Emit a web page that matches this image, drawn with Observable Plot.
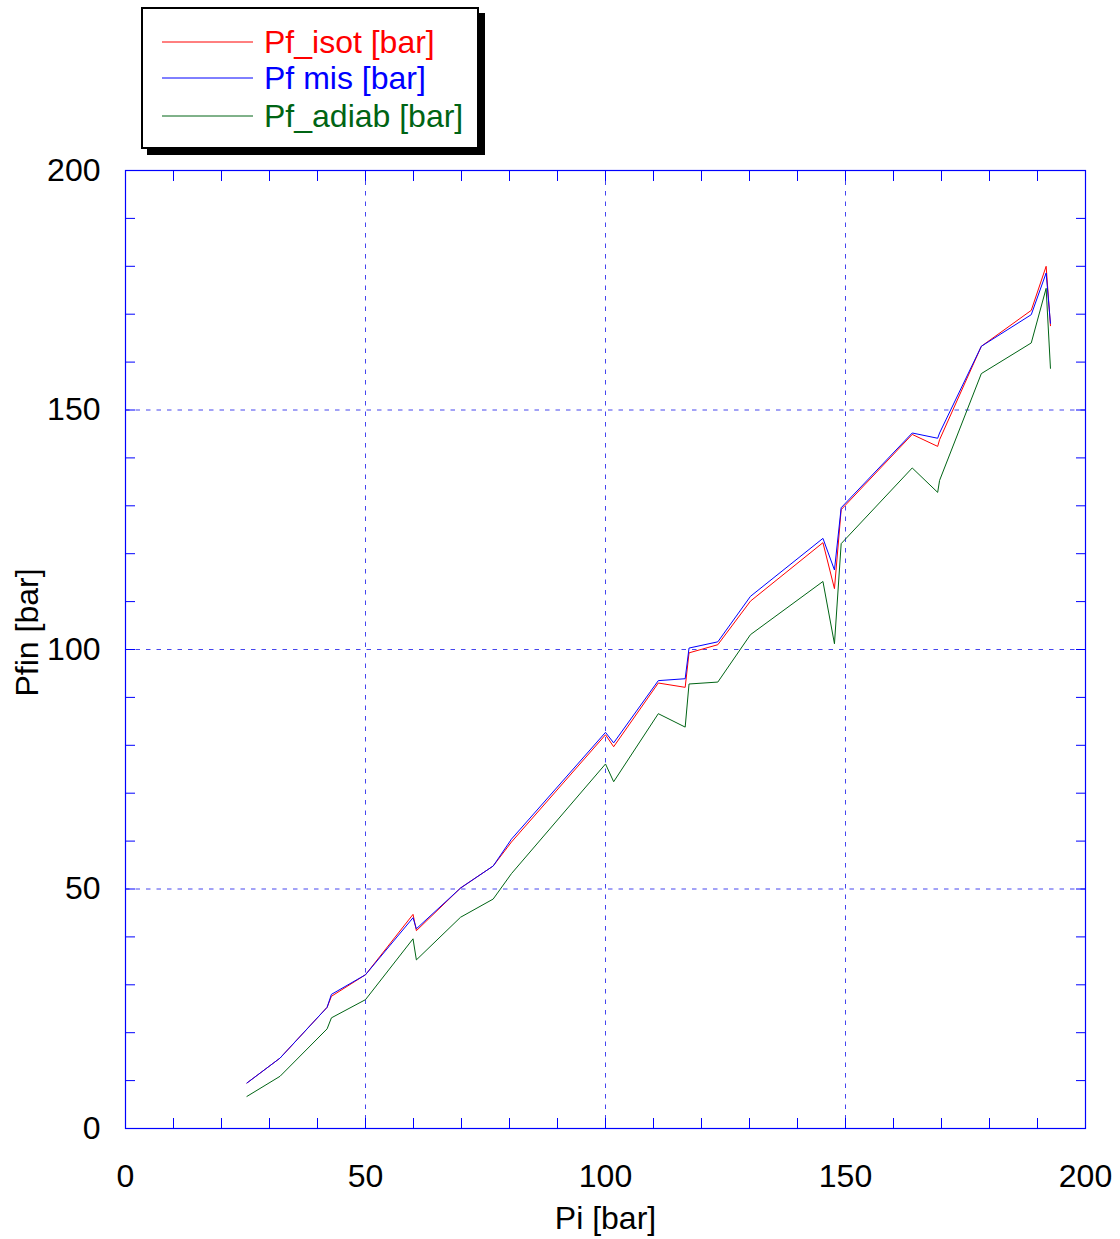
<!DOCTYPE html>
<html>
<head>
<meta charset="utf-8">
<script src="https://cdn.jsdelivr.net/npm/d3@7"></script>
<script src="https://cdn.jsdelivr.net/npm/@observablehq/plot@0.6"></script>
<style>
  html, body { margin: 0; padding: 0; background: white; }
  #wrap { position: relative; width: 1120px; height: 1239px; font-family: "Liberation Sans", Arial, sans-serif; }
  #legend { position: absolute; left: 141px; top: 7px; width: 334px; height: 138px; border: 2px solid black; box-shadow: 6px 6px 0 black; background: white; }
  .row { position: absolute; left: 0; height: 36px; display: flex; align-items: center; font-size: 32px; white-space: nowrap; }
  .row svg { margin-left: 19px; margin-right: 11px; }
  #chart { position: absolute; left: 0; top: 160px; }
</style>
</head>
<body>
<div id="wrap">
  <div id="chart"></div>
  <div id="legend"></div>
</div>
<script>
// Pi [bar]
const pi = [25.3, 32.2, 42.0, 42.9, 50.0, 59.9, 60.6, 69.8, 76.6, 80.4, 100.0, 101.7, 111.0, 116.6, 117.4, 123.4, 130.2, 145.3, 147.7, 149.1, 163.9, 169.2, 169.6, 178.3, 188.7, 191.8, 192.7];
const pfIsot = [9.5, 14.7, 25.3, 27.6, 32.1, 44.7, 41.3, 50.2, 54.8, 59.8, 82.2, 79.7, 93.0, 92.1, 99.3, 101.0, 110.1, 122.3, 112.7, 129.2, 144.9, 142.4, 143.8, 163.3, 170.8, 180.0, 167.6];
const pfMis = [9.5, 14.7, 25.3, 28.0, 32.1, 44.0, 41.7, 50.2, 54.8, 60.4, 82.7, 80.5, 93.5, 93.9, 100.3, 101.6, 111.1, 123.2, 116.6, 129.6, 145.2, 144.1, 145.2, 163.3, 169.9, 178.6, 168.1];
const pfAdiab = [6.7, 10.9, 20.8, 23.1, 26.9, 39.6, 35.2, 44.1, 47.9, 53.2, 76.1, 72.4, 86.6, 83.8, 92.8, 93.2, 103.1, 114.2, 101.2, 122.1, 137.9, 132.8, 135.3, 157.6, 164.0, 175.4, 158.7];

const seriesNames = ["Pf_isot [bar]", "Pf mis [bar]", "Pf_adiab [bar]"];
const seriesColors = ["#ff0000", "#0000ff", "#006414"];
const drawOrder = ["Pf_adiab [bar]", "Pf_isot [bar]", "Pf mis [bar]"];

const xTicks = [0, 50, 100, 150, 200];
const yTicks = [0, 50, 100, 150, 200];
const minorTicks = d3.range(0, 201, 10);
const gridVals = [50, 100, 150];
const xLabel = "Pi [bar]";
const yLabel = "Pfin [bar]";

const valuesBySeries = {"Pf_isot [bar]": pfIsot, "Pf mis [bar]": pfMis, "Pf_adiab [bar]": pfAdiab};
const rows = drawOrder.flatMap(s => pi.map((x, i) => ({x, y: valuesBySeries[s][i], s})));

const axisBlue = "#0000ff";
const gridBlue = "#4646ee";

const chart = Plot.plot({
  width: 1120,
  height: 1079,
  marginLeft: 125,
  marginRight: 35,
  marginTop: 10,
  marginBottom: 111,
  style: {fontFamily: "'Liberation Sans', Arial, sans-serif", fontSize: "32px", color: "black", background: "white", overflow: "visible"},
  x: {domain: [0, 200]},
  y: {domain: [0, 200]},
  color: {domain: seriesNames, range: seriesColors},
  marks: [
    Plot.ruleX(gridVals, {x: d => d, stroke: gridBlue, strokeWidth: 1, strokeDasharray: "4.5,6"}),
    Plot.ruleY(gridVals, {y: d => d, stroke: gridBlue, strokeWidth: 1, strokeDasharray: "4.5,6"}),
    Plot.axisX(minorTicks, {anchor: "bottom", tickSize: -10, text: null, stroke: axisBlue, label: null}),
    Plot.axisX(minorTicks, {anchor: "top", tickSize: -10, text: null, stroke: axisBlue, label: null}),
    Plot.axisY(minorTicks, {anchor: "left", tickSize: -10, text: null, stroke: axisBlue, label: null}),
    Plot.axisY(minorTicks, {anchor: "right", tickSize: -10, text: null, stroke: axisBlue, label: null}),
    Plot.axisX(xTicks, {anchor: "bottom", tickSize: 0, tickPadding: 36, label: null, fill: "black", fontSize: 32}),
    Plot.axisY(yTicks, {anchor: "left", tickSize: 0, tickPadding: 25, label: null, fill: "black", fontSize: 32}),
    Plot.frame({stroke: axisBlue, strokeWidth: 1.2}),
    Plot.line(rows, {x: "x", y: "y", z: "s", stroke: "s", strokeWidth: 1}),
    Plot.text([xLabel], {frameAnchor: "bottom", text: d => d, dy: 90, lineAnchor: "middle", textAnchor: "middle", fontSize: 32, fill: "black"}),
    Plot.text([yLabel], {frameAnchor: "left", text: d => d, rotate: -90, dx: -98, dy: -17, lineAnchor: "middle", textAnchor: "middle", fontSize: 32, fill: "black"})
  ]
});
document.getElementById("chart").appendChild(chart);

// legend
const legend = document.getElementById("legend");
const rowTops = [15, 51, 89];
seriesNames.forEach((name, i) => {
  const row = document.createElement("div");
  row.className = "row";
  row.style.top = rowTops[i] + "px";
  row.style.color = seriesColors[i];
  row.innerHTML = `<svg width="91" height="4"><line x1="0" x2="91" y1="2" y2="2" stroke="${seriesColors[i]}" stroke-width="1"/></svg><span>${name}</span>`;
  legend.appendChild(row);
});
</script>
</body>
</html>
